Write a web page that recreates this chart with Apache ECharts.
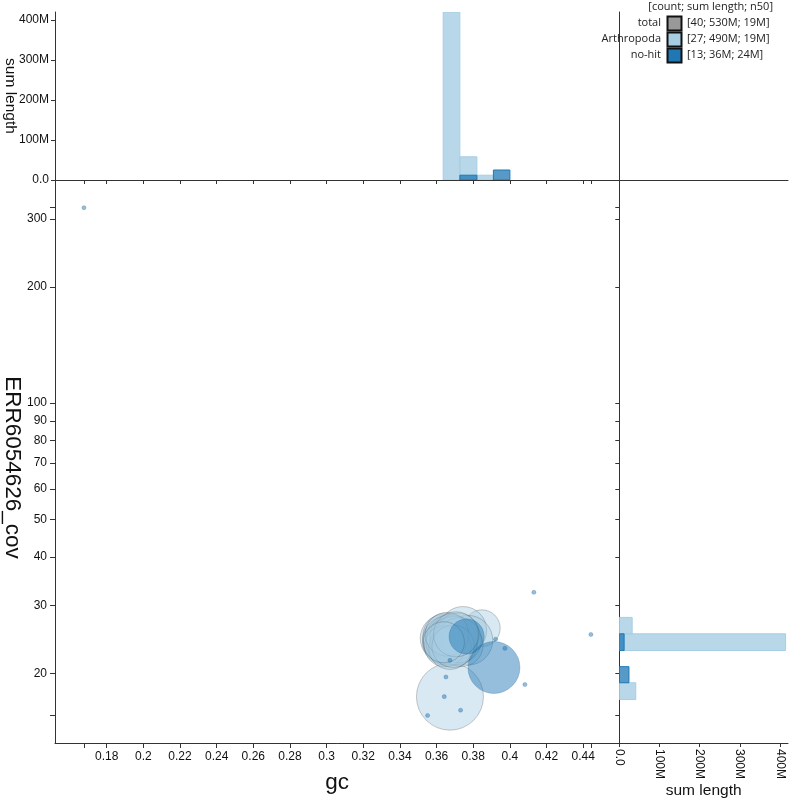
<!DOCTYPE html>
<html><head><meta charset="utf-8">
<script src="https://cdn.jsdelivr.net/npm/echarts@6/dist/echarts.min.js"></script>
<style>html,body{margin:0;padding:0;background:#fff}#c{width:794px;height:800px}</style>
</head><body><div id="c"></div>
<script>
// ---- data ----
// Arthropoda contigs: gc, coverage, length (Mb)
const arthGc  = [0.3673, 0.3847, 0.3744, 0.3771, 0.3738,
  0.3640, 0.3646, 0.3651, 0.3657, 0.3662, 0.3668, 0.3673, 0.3679, 0.3684, 0.3690, 0.3695,
  0.3701, 0.3706, 0.3711, 0.3717, 0.3722, 0.3646, 0.3673, 0.3657, 0.3690, 0.3706, 0.3640];
const arthCov = [17.4, 26.16, 25.85, 24.35, 23.63,
  24.64, 24.06, 24.94, 24.35, 23.77, 24.79, 24.20, 25.08, 23.92, 24.49, 24.94,
  24.06, 24.64, 23.63, 25.23, 24.35, 23.49, 23.22, 25.23, 23.49, 25.23, 24.06];
const arthLen = [40, 12, 20, 22, 16,
  20, 18, 19, 21, 17, 18, 20, 16, 17, 19, 15,
  18, 17, 14, 16, 18, 15, 16, 17, 16, 18, 15];
// no-hit contigs
const nohitGc  = [0.3913, 0.3764, 0.1676, 0.4131, 0.4442, 0.3922, 0.3973, 0.3673, 0.3651, 0.4082, 0.3642, 0.3731, 0.3551];
const nohitCov = [20.7, 24.9, 320.5, 32.4, 25.2, 24.5, 23.2, 21.6, 19.56, 18.7, 17.4, 16.05, 15.55];
const nohitLen = [24, 11, 0.15, 0.15, 0.15, 0.15, 0.15, 0.15, 0.15, 0.15, 0.15, 0.15, 0.15];

// histogram bins
const gcBinLo = [0.3636, 0.3727, 0.3820, 0.3910];
const gcBinHi = [0.3727, 0.3820, 0.3910, 0.4000];
const arthGcHist  = [420, 58, 12, 0];
const nohitGcHist = [0, 12, 0, 25];
const covBinLo = [17.1, 18.9, 20.8, 22.9, 25.3];
const covBinHi = [18.9, 20.8, 22.9, 25.3, 27.9];
const arthCovHist  = [41, 0, 0, 414, 32];
const nohitCovHist = [0, 24, 0, 12, 0];

// axis ticks
const gcTicks  = [0.18, 0.2, 0.22, 0.24, 0.26, 0.28, 0.3, 0.32, 0.34, 0.36, 0.38, 0.4, 0.42, 0.44];
const covTicks = [20, 30, 40, 50, 60, 70, 80, 90, 100, 200, 300];
const lenTicks = [0, 100, 200, 300, 400];

// legend
const legendNames  = ['total', 'Arthropoda', 'no-hit'];
const legendStats  = ['[40; 530M; 19M]', '[27; 490M; 19M]', '[13; 36M; 24M]'];
const legendHeader = '[count; sum length; n50]';

// ---- chart ----
const allGc = arthGc.concat(nohitGc), allCov = arthCov.concat(nohitCov);
const gcMinV = Math.min(...allGc), gcMaxV = Math.max(...allGc);
const covMinV = Math.min(...allCov), covMaxV = Math.max(...allCov);

const GC_MIN = 0.1518, GC_MAX = 0.4597, COV_MIN = 13.2, COV_MAX = 378, LEN_MAX = 420;
const LIGHT = '#a6cee3', DARK = '#1f78b4';
const SANS = '"Liberation Sans", Arial, Helvetica, sans-serif';
const tickFont = {fontFamily: SANS, fontSize: 12, color: '#111'};
const axLine = {show: true, lineStyle: {color: '#333', width: 1}};
const fmtGc = v => String(+(+v).toFixed(2));
const fmtLen = v => v === 0 ? '0.0' : v + 'M';

function pts(gc, cov, len) { return gc.map((g, i) => [g, cov[i], len[i]]); }
function sizeFn(v) { return 2 * 5.3 * Math.sqrt(v[2]); }

function topBar(fill, stroke) {
  return function (params, api) {
    const p0 = api.coord([api.value(0), 0]);
    const p1 = api.coord([api.value(1), api.value(2)]);
    return {type: 'rect', shape: {x: p0[0], y: p1[1], width: p1[0] - p0[0], height: p0[1] - p1[1]},
      style: {fill: fill, stroke: stroke, lineWidth: 1}};
  };
}
function sideBar(fill, stroke) {
  return function (params, api) {
    const p0 = api.coord([0, api.value(0)]);
    const p1 = api.coord([api.value(2), api.value(1)]);
    return {type: 'rect', shape: {x: p0[0], y: p1[1], width: p1[0] - p0[0], height: p0[1] - p1[1]},
      style: {fill: fill, stroke: stroke, lineWidth: 1}};
  };
}
function binData(lo, hi, vals) {
  const out = [];
  vals.forEach((v, i) => { if (v > 0) out.push([lo[i], hi[i], v]); });
  return out;
}

const chart = echarts.init(document.getElementById('c'), null, {renderer: 'canvas'});
const LFONT = '11px "Open Sans"';
const legendGraphics = [];
legendGraphics.push({type: 'rect', left: 640, top: 0, shape: {width: 154, height: 62}, style: {fill: '#fff'}, z: 50});
legendGraphics.push({type: 'text', x: 773, y: 7, z: 51,
  style: {text: legendHeader, align: 'right', verticalAlign: 'middle', font: LFONT, fill: '#222'}});
const swatchCols = ['#999999', LIGHT, DARK];
legendNames.forEach((n, i) => {
  const yc = 23 + i * 16;
  legendGraphics.push({type: 'text', x: 661, y: yc, z: 51,
    style: {text: n, align: 'right', verticalAlign: 'middle', font: LFONT, fill: '#222'}});
  legendGraphics.push({type: 'rect', x: 667.5, y: yc - 6.5, z: 51, shape: {width: 14, height: 14},
    style: {fill: swatchCols[i], stroke: '#111', lineWidth: 2}});
  legendGraphics.push({type: 'text', x: 687, y: yc, z: 51,
    style: {text: legendStats[i], align: 'left', verticalAlign: 'middle', font: LFONT, fill: '#222'}});
});

const option = {
  animation: false,
  backgroundColor: '#fff',
  grid: [
    {left: 55, top: 180, width: 564.3, height: 563, outerBoundsMode: 'none', containLabel: false},
    {left: 55, top: 12, width: 564.3, height: 168, outerBoundsMode: 'none', containLabel: false},
    {left: 619.3, top: 180, width: 168.7, height: 563, outerBoundsMode: 'none', containLabel: false}
  ],
  xAxis: [
    {gridIndex: 0, type: 'value', min: GC_MIN, max: GC_MAX, position: 'bottom',
      name: 'gc', nameLocation: 'middle', nameGap: 28, nameMoveOverlap: false,
      nameTextStyle: {fontFamily: SANS, fontSize: 22.5, color: '#111'},
      axisLine: axLine, splitLine: {show: false},
      axisTick: {show: true, length: 5, lineStyle: {color: '#333'}, customValues: gcTicks.concat([gcMinV, gcMaxV])},
      axisLabel: Object.assign({customValues: gcTicks, margin: 8, formatter: fmtGc}, tickFont)},
    {gridIndex: 1, type: 'value', min: GC_MIN, max: GC_MAX, position: 'bottom',
      axisLine: axLine, splitLine: {show: false}, axisLabel: {show: false},
      axisTick: {show: true, length: 4, lineStyle: {color: '#333'}, customValues: gcTicks.concat([gcMinV, gcMaxV])}},
    {gridIndex: 1, type: 'value', min: GC_MIN, max: GC_MAX, position: 'top',
      axisLine: axLine, splitLine: {show: false}, axisLabel: {show: false}, axisTick: {show: false}},
    {gridIndex: 2, type: 'value', min: 0, max: LEN_MAX, position: 'bottom',
      name: 'sum length', nameLocation: 'middle', nameGap: 40, nameMoveOverlap: false,
      nameTextStyle: {fontFamily: SANS, fontSize: 15.5, color: '#111'},
      axisLine: axLine, splitLine: {show: false},
      axisTick: {show: true, length: 4, lineStyle: {color: '#333'}, customValues: lenTicks},
      axisLabel: Object.assign({customValues: lenTicks, rotate: -90, margin: 6, formatter: fmtLen}, tickFont)},
    {gridIndex: 2, type: 'value', min: 0, max: LEN_MAX, position: 'top',
      axisLine: axLine, splitLine: {show: false}, axisLabel: {show: false}, axisTick: {show: false}}
  ],
  yAxis: [
    {gridIndex: 0, type: 'log', logBase: 10, min: COV_MIN, max: COV_MAX, position: 'left',
      name: 'ERR6054626_cov', nameLocation: 'middle', nameGap: 31, nameRotate: -90, nameMoveOverlap: false,
      nameTextStyle: {fontFamily: SANS, fontSize: 22.5, color: '#111', padding: [0, 0, 0, 12]},
      axisLine: axLine, splitLine: {show: false}, minorTick: {show: false},
      axisTick: {show: true, length: 5, lineStyle: {color: '#333'}, customValues: covTicks.concat([covMinV, covMaxV])},
      axisLabel: Object.assign({customValues: covTicks, margin: 8}, tickFont)},
    {gridIndex: 1, type: 'value', min: 0, max: LEN_MAX, position: 'left',
      name: 'sum length', nameLocation: 'middle', nameGap: 37, nameRotate: -90, nameMoveOverlap: false,
      nameTextStyle: {fontFamily: SANS, fontSize: 15.5, color: '#111'},
      axisLine: axLine, splitLine: {show: false},
      axisTick: {show: true, length: 4, lineStyle: {color: '#333'}, customValues: lenTicks},
      axisLabel: Object.assign({customValues: lenTicks, margin: 6, formatter: fmtLen}, tickFont)},
    {gridIndex: 1, type: 'value', min: 0, max: LEN_MAX, position: 'right',
      axisLine: axLine, splitLine: {show: false}, axisLabel: {show: false}, axisTick: {show: false}},
    {gridIndex: 2, type: 'log', logBase: 10, min: COV_MIN, max: COV_MAX, position: 'left',
      axisLine: axLine, splitLine: {show: false}, axisLabel: {show: false},
      axisTick: {show: true, length: 4, lineStyle: {color: '#333'}, customValues: covTicks.concat([covMinV, covMaxV])}},
    {gridIndex: 2, type: 'log', logBase: 10, min: COV_MIN, max: COV_MAX, position: 'right',
      axisLine: axLine, splitLine: {show: false}, axisLabel: {show: false}, axisTick: {show: false}}
  ],
  graphic: legendGraphics,
  series: [
    {type: 'scatter', name: 'Arthropoda', xAxisIndex: 0, yAxisIndex: 0, data: pts(arthGc, arthCov, arthLen),
      symbolSize: sizeFn, itemStyle: {color: 'rgba(166,206,227,0.55)', borderColor: 'rgba(70,70,70,0.45)', borderWidth: 0.8}, z: 2},
    {type: 'scatter', name: 'no-hit', xAxisIndex: 0, yAxisIndex: 0, data: pts(nohitGc, nohitCov, nohitLen),
      symbolSize: v => Math.max(4, sizeFn(v)),
      itemStyle: {color: 'rgba(31,120,180,0.6)', borderColor: 'rgba(31,90,140,0.4)', borderWidth: 0.8}, z: 3},
    {type: 'custom', name: 'Arthropoda gc hist', xAxisIndex: 1, yAxisIndex: 1, clip: true,
      data: binData(gcBinLo, gcBinHi, arthGcHist), renderItem: topBar('rgba(166,206,227,0.8)', 'rgba(166,206,227,1)'), z: 2},
    {type: 'custom', name: 'no-hit gc hist', xAxisIndex: 1, yAxisIndex: 1, clip: true,
      data: binData(gcBinLo, gcBinHi, nohitGcHist), renderItem: topBar('rgba(31,120,180,0.75)', 'rgba(31,120,180,1)'), z: 3},
    {type: 'custom', name: 'Arthropoda cov hist', xAxisIndex: 3, yAxisIndex: 3, clip: true,
      data: binData(covBinLo, covBinHi, arthCovHist), renderItem: sideBar('rgba(166,206,227,0.8)', 'rgba(166,206,227,1)'), z: 2},
    {type: 'custom', name: 'no-hit cov hist', xAxisIndex: 3, yAxisIndex: 3, clip: true,
      data: binData(covBinLo, covBinHi, nohitCovHist), renderItem: sideBar('rgba(31,120,180,0.75)', 'rgba(31,120,180,1)'), z: 3}
  ]
};
chart.setOption(option);
</script></body></html>
